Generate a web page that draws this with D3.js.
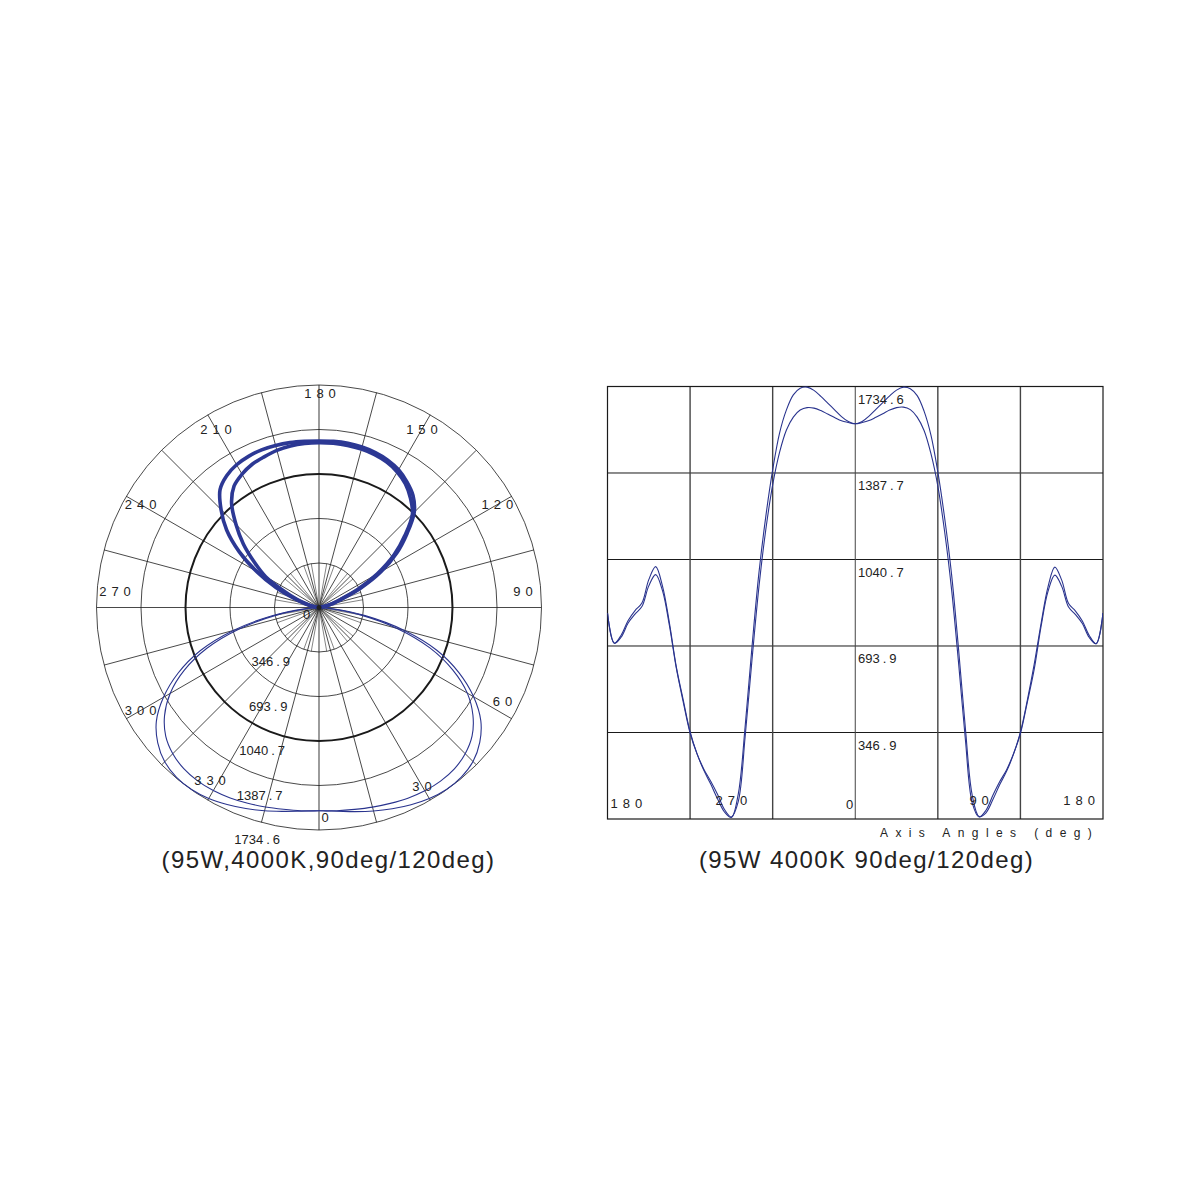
<!DOCTYPE html>
<html><head><meta charset="utf-8">
<script src="https://cdn.jsdelivr.net/npm/d3@7"></script>
<style>
body{margin:0;background:#fff}
svg{display:block}
text{font-family:"Liberation Sans",Arial,Helvetica,sans-serif;fill:#222}
</style>
</head><body>
<svg id="c" width="1200" height="1200"></svg>
<script>
// ---------------- DATA ----------------
// Candela values (cd) along the axis angles, two planes
const axisAngles = [-180,-175,-170,-165,-160,-155,-150,-145,-140,-135,-130,-125,-120,-115,-110,-105,-100,-95,-90,-85,-80,-75,-70,-65,-60,-55,-50,-45,-40,-35,-30,-25,-20,-15,-10,-5,0,5,10,15,20,25,30,35,40,45,50,55,60,65,70,75,80,85,90,95,100,105,110,115,120,125,130,135,140,145,150,155,160,165,170,175,180];
const planeA = [826,705,738,796,836,866,960,1012,933,786,610,478,350,262,195,140,80,28,6,100,371,692,986,1213,1400,1548,1641,1701,1728,1732,1719,1695,1668,1641,1614,1594,1585,1594,1616,1643,1670,1697,1720,1732,1726,1698,1636,1540,1392,1205,980,685,365,95,10,25,78,138,192,260,348,476,620,784,930,1010,958,864,834,794,736,703,826];
const planeB = [826,705,730,786,822,852,935,980,915,775,605,470,345,262,200,151,98,38,8,70,330,640,930,1160,1340,1470,1560,1612,1640,1650,1648,1638,1624,1610,1597,1590,1585,1590,1598,1611,1625,1640,1650,1652,1642,1612,1558,1465,1335,1150,920,630,320,65,8,35,95,150,198,262,343,468,600,772,912,978,933,850,820,784,728,703,826];
// Upper (thick) lobe of the polar diagram, angles 90..270
const upperAngles = [90,95,100,105,110,115,120,125,130,135,140,145,150,155,160,165,170,175,180,185,190,195,200,205,210,215,220,225,230,235,240,245,250,255,260,265,270];
const upperOuter = [0,5,40,100,180,360,560,740,895,1050,1140,1195,1240,1268,1285,1295,1300,1300,1298,1300,1305,1308,1308,1300,1285,1255,1200,1080,940,760,560,370,210,110,50,10,0];
const upperInner = [0,4,30,90,165,335,525,715,875,1030,1110,1175,1220,1250,1268,1278,1283,1285,1285,1283,1278,1268,1250,1232,1200,1155,1060,915,770,615,480,300,180,90,40,10,0];
const ringValues = [346.9,693.9,1040.7,1387.7,1734.6];
const ringLabels = ["346.9","693.9","1040.7","1387.7","1734.6"];
const polarAngleLabels = [0,30,60,90,120,150,180,210,240,270,300,330];
const xTickValues = [-180,-90,0,90,180];
const xTickLabels = ["180","270","0","90","180"];
const xGridValues = [-120,-60,0,60,120];
const titleLeft = "(95W,4000K,90deg/120deg)";
const titleRight = "(95W 4000K 90deg/120deg)";
const axisTitle = "Axis  Angles (deg)";

// ---------------- STYLE ----------------
const THICK = "#2c3894", THIN = "#2a348e";
const svg = d3.select("#c");

// ---------------- POLAR ----------------
const cx = 319, cy = 607.5, R = 222.5, vMax = 1734.6;
const rScale = d3.scaleLinear().domain([0, vMax]).range([0, R]);
// 0 deg at bottom, 90 deg right, 180 top, 270 left
const aScale = d3.scaleLinear().domain([0, 360]).range([Math.PI, -Math.PI]);
const pg = svg.append("g").attr("transform", `translate(${cx},${cy})`);
function pxy(deg, r){ const a = aScale(deg); return [r*Math.sin(a), -r*Math.cos(a)]; }

// short spokes to first ring
for (let d = 0; d < 360; d += 10) {
  if (d % 15 === 0) continue;
  const p = pxy(d, rScale(ringValues[0]));
  pg.append("line").attr("x1",0).attr("y1",0).attr("x2",p[0]).attr("y2",p[1])
    .attr("stroke","#333").attr("stroke-width",0.6);
}
// full spokes every 15 deg
for (let d = 0; d < 360; d += 15) {
  const p = pxy(d, R);
  const vert = (d === 0 || d === 180);
  pg.append("line").attr("x1",0).attr("y1",0).attr("x2",p[0]).attr("y2",p[1])
    .attr("stroke", vert ? "#666" : "#1a1a1a").attr("stroke-width", vert ? 1.3 : 0.8);
}
// rings
ringValues.forEach((v,i)=>{
  pg.append("circle").attr("r", rScale(v)).attr("fill","none")
    .attr("stroke", "#1a1a1a").attr("stroke-width", i===2 ? 2 : 0.8);
});

// curves
const radial = d3.lineRadial().curve(d3.curveCatmullRom.alpha(0.5));
function polarPath(angs, vals){
  return radial(angs.map((a,i)=>[aScale(a), rScale(vals[i])]));
}
const lowIdx = axisAngles.map((a,i)=>i).filter(i=>axisAngles[i]>=-90 && axisAngles[i]<=90);
pg.append("path").attr("d", polarPath(lowIdx.map(i=>axisAngles[i]), lowIdx.map(i=>planeA[i])))
  .attr("fill","none").attr("stroke",THIN).attr("stroke-width",1.1);
pg.append("path").attr("d", polarPath(lowIdx.map(i=>axisAngles[i]), lowIdx.map(i=>planeB[i])))
  .attr("fill","none").attr("stroke",THIN).attr("stroke-width",1.1);
pg.append("path").attr("d", polarPath(upperAngles, upperOuter))
  .attr("fill","none").attr("stroke",THICK).attr("stroke-width",3.6).attr("stroke-linejoin","round");
pg.append("path").attr("d", polarPath(upperAngles, upperInner))
  .attr("fill","none").attr("stroke",THICK).attr("stroke-width",3.6).attr("stroke-linejoin","round");

// center dot
pg.append("circle").attr("r",2.5).attr("fill","#222");

// ring labels
ringLabels.forEach((t,i)=>{
  const r = rScale(ringValues[i]);
  const parts = t.split(".");
  const tx = pg.append("text").attr("x", -26 - 2.5*i).attr("y", r + 14)
    .attr("text-anchor","end").attr("font-size",13);
  tx.append("tspan").text(parts[0]);
  tx.append("tspan").attr("dx",3).attr("letter-spacing",3).text("." + parts[1]);
});
pg.append("text").attr("x",-12.5).attr("y",11).attr("text-anchor","middle")
  .attr("font-size",13).attr("fill","#444").text("0");

// angle labels
const nudge = {0:[6,4],60:[5,-9],90:[-2,-16],180:[1,-8],270:[2,-16],330:[-6,-6]};
polarAngleLabels.forEach(d=>{
  const p = pxy(d, 206);
  const n = nudge[d] || [0,0];
  pg.append("text").attr("x", p[0]+n[0]+2.5).attr("y", p[1]+n[1]+4.6)
    .attr("text-anchor","middle").attr("font-size",13).attr("letter-spacing",5)
    .text(String(d));
});

// ---------------- CARTESIAN ----------------
const x0 = 607.5, x1 = 1103, y0 = 819, y1 = 386.5;
const xs = d3.scaleLinear().domain([-180,180]).range([x0,x1]);
const ys = d3.scaleLinear().domain([0,vMax]).range([y0,y1]);
const cg = svg.append("g");
cg.append("clipPath").attr("id","clipC").append("rect")
  .attr("x",x0).attr("y",y1-2).attr("width",x1-x0).attr("height",y0-y1+2);

// grid
ringValues.slice(0,4).forEach(v=>{
  cg.append("line").attr("x1",x0).attr("x2",x1).attr("y1",ys(v)).attr("y2",ys(v))
    .attr("stroke","#1a1a1a").attr("stroke-width",1);
});
xGridValues.forEach(a=>{
  cg.append("line").attr("x1",xs(a)).attr("x2",xs(a)).attr("y1",y0).attr("y2",y1)
    .attr("stroke", "#444").attr("stroke-width", a===0 ? 1 : 1.4);
});
cg.append("rect").attr("x",x0).attr("y",y1).attr("width",x1-x0).attr("height",y0-y1)
  .attr("fill","none").attr("stroke","#1a1a1a").attr("stroke-width",1.2);

const line = d3.line().x((d,i)=>xs(axisAngles[i])).y(d=>ys(d)).curve(d3.curveCatmullRom.alpha(0.5));
cg.append("path").attr("d", line(planeA)).attr("clip-path","url(#clipC)")
  .attr("fill","none").attr("stroke",THIN).attr("stroke-width",1.1);
cg.append("path").attr("d", line(planeB)).attr("clip-path","url(#clipC)")
  .attr("fill","none").attr("stroke",THIN).attr("stroke-width",1.1);

// y labels
ringLabels.forEach((t,i)=>{
  const v = ringValues[i];
  const parts = t.split(".");
  const tx = cg.append("text").attr("x",858).attr("y", ys(v) + 17)
    .attr("font-size",13);
  tx.append("tspan").text(parts[0]);
  tx.append("tspan").attr("dx",3).attr("letter-spacing",3).text("." + parts[1]);
});
// x labels
xTickValues.forEach((a,i)=>{
  let anchor = "middle", dx = 2.5, yy = 805;
  if (i===0){ anchor="start"; dx=3; yy=808; }
  if (i===2){ anchor="end"; dx=-2; yy=808.5; }
  if (i===4){ anchor="end"; dx=-3; }
  cg.append("text").attr("x", xs(a)+dx).attr("y", yy).attr("text-anchor",anchor)
    .attr("font-size",13).attr("letter-spacing", i===2 ? 0 : 5).text(xTickLabels[i]);
});
cg.append("text").attr("x",880).attr("y",837).attr("font-size",12)
  .attr("letter-spacing",7.4).text(axisTitle);

// ---------------- TITLES ----------------
svg.append("text").attr("x",328.5).attr("y",868).attr("text-anchor","middle")
  .attr("font-size",24).attr("letter-spacing",1.4).text(titleLeft);
svg.append("text").attr("x",866.5).attr("y",868).attr("text-anchor","middle")
  .attr("font-size",24).attr("letter-spacing",1.4).text(titleRight);
</script>
</body></html>
